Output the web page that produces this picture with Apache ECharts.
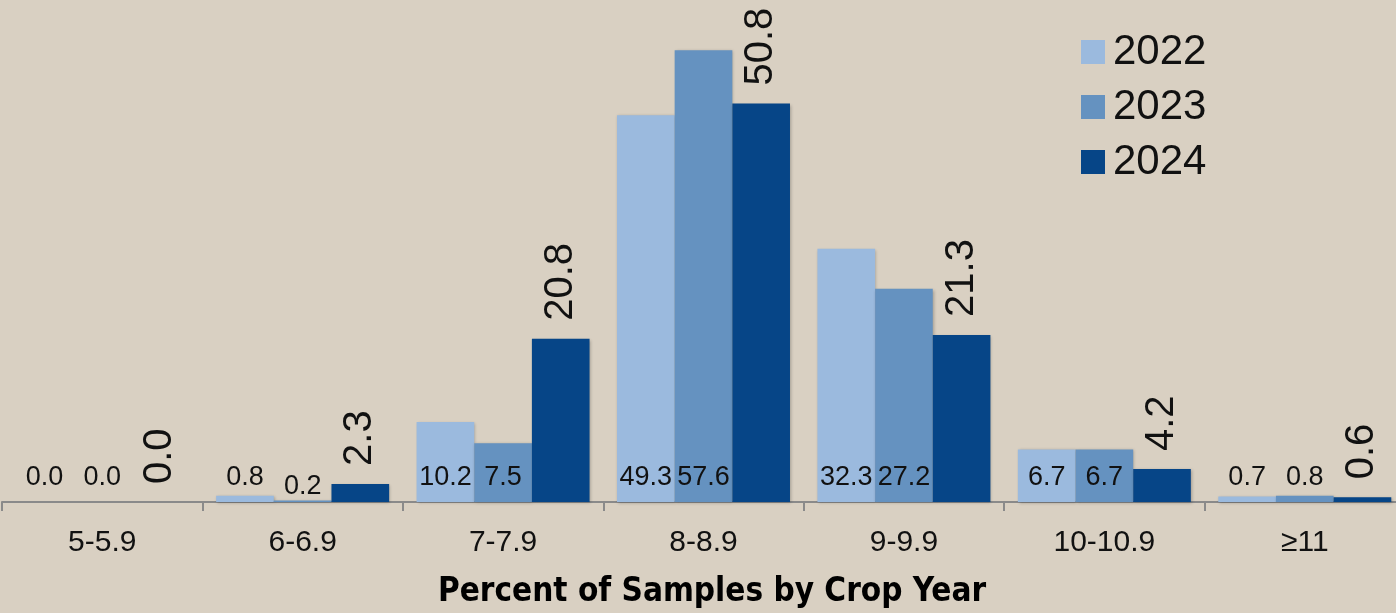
<!DOCTYPE html>
<html>
<head>
<meta charset="utf-8">
<script src="https://cdn.jsdelivr.net/npm/echarts@6/dist/echarts.min.js"></script>
<style>
  html, body { margin: 0; padding: 0; background: #d9d0c2; }
  #chart { width: 1396px; height: 613px; }
</style>
</head>
<body>
<div id="chart"></div>
<script>
// pH ranges along the x axis
const categories = ['5-5.9', '6-6.9', '7-7.9', '8-8.9', '9-9.9', '10-10.9', '≥11'];
// Share of samples (%) for each crop year
const v2022 = [0.0, 0.8, 10.2, 49.3, 32.3, 6.7, 0.7];
const v2023 = [0.0, 0.2, 7.5, 57.6, 27.2, 6.7, 0.8];
const v2024 = [0.0, 2.3, 20.8, 50.8, 21.3, 4.2, 0.6];
const years = ['2022', '2023', '2024'];
const colors = ['#9bbade', '#6592c0', '#064587'];

const FONT = 'Liberation Sans, Arial, sans-serif';

const barShadow = {
  shadowColor: 'rgba(0,0,0,0.25)',
  shadowBlur: 3,
  shadowOffsetX: 1,
  shadowOffsetY: 1
};

// small labels sit just above the baseline, inside or above the bar
function baseLabel() {
  return {
    show: true,
    position: 'insideBottom',
    distance: 11,
    color: '#111',
    fontFamily: FONT,
    fontSize: 27,
    formatter: p => p.value.toFixed(1)
  };
}

const chart = echarts.init(document.getElementById('chart'), null, { renderer: 'canvas' });

chart.setOption({
  backgroundColor: '#d9d0c2',
  animation: false,
  grid: { left: 2, top: 0, width: 1403, height: 502, containLabel: false, outerBoundsMode: 'none' },
  legend: {
    orient: 'vertical',
    left: 1076,
    top: 26,
    itemWidth: 24,
    itemHeight: 24,
    itemGap: 13,
    icon: 'rect',
    textStyle: { fontFamily: FONT, fontSize: 42, color: '#111', padding: [0, 0, 0, 3] },
    data: years
  },
  xAxis: {
    type: 'category',
    data: categories,
    axisLine: { lineStyle: { color: '#8a8a8a', width: 2 } },
    axisTick: { show: true, length: 9, lineStyle: { color: '#8a8a8a', width: 2 } },
    axisLabel: { fontFamily: FONT, fontSize: 30, color: '#111', margin: 26 },
    name: 'Percent of Samples by Crop Year',
    nameLocation: 'middle',
    nameGap: 74,
    nameTextStyle: {
      fontFamily: 'DejaVu Sans Condensed, Liberation Sans Narrow, sans-serif',
      fontWeight: 'bold',
      fontSize: 33,
      color: '#000',
      padding: [0, 0, 0, 17]
    }
  },
  yAxis: {
    type: 'value',
    min: 0,
    max: 64,
    show: false,
    splitLine: { show: false }
  },
  series: [
    {
      name: years[0],
      type: 'bar',
      data: v2022,
      barGap: '0%',
      barCategoryGap: '13.7%',
      itemStyle: Object.assign({ color: colors[0] }, barShadow),
      label: baseLabel()
    },
    {
      name: years[1],
      type: 'bar',
      data: v2023.map((v, i) => i === 1 ? { value: v, label: { distance: 2 } } : v),
      barGap: '0%',
      barCategoryGap: '13.7%',
      itemStyle: Object.assign({ color: colors[1] }, barShadow),
      label: baseLabel()
    },
    {
      name: years[2],
      type: 'bar',
      data: v2024,
      barGap: '0%',
      barCategoryGap: '13.7%',
      itemStyle: Object.assign({ color: colors[2] }, barShadow),
      label: {
        show: true,
        position: 'top',
        distance: 18,
        rotate: 90,
        align: 'left',
        verticalAlign: 'middle',
        color: '#111',
        fontFamily: FONT,
        fontSize: 40,
        formatter: p => p.value.toFixed(1)
      }
    }
  ]
});
</script>
</body>
</html>
